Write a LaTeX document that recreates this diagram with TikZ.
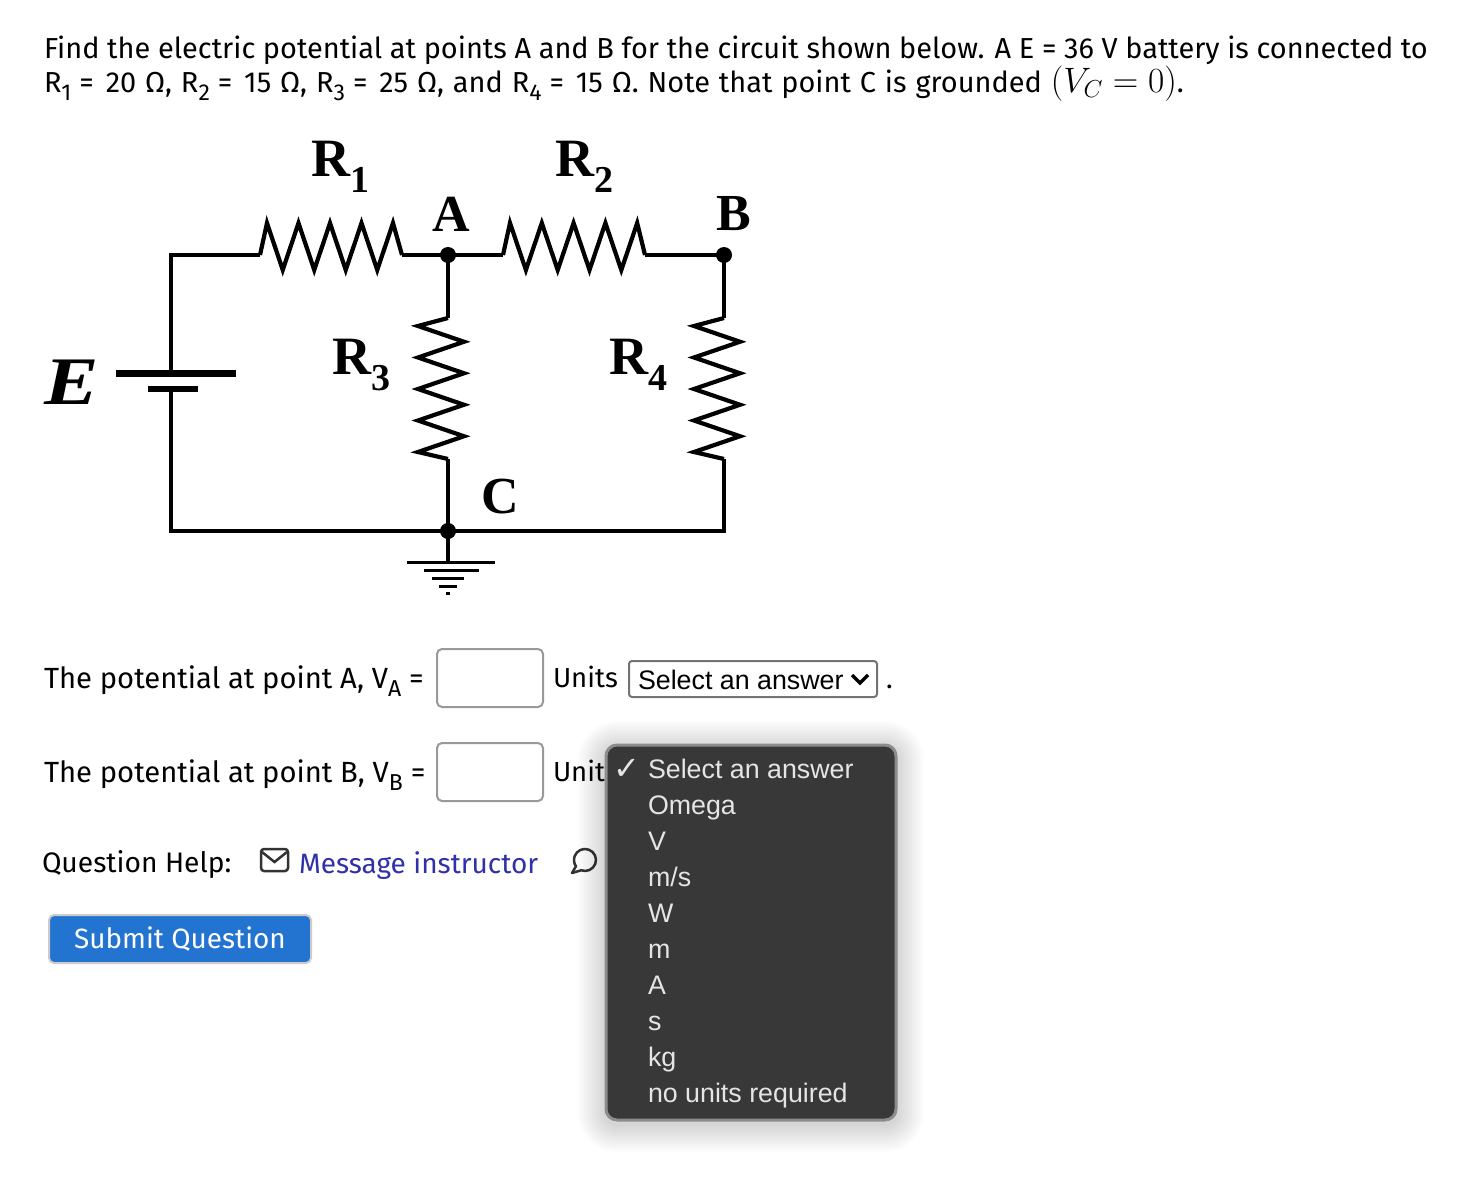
\documentclass[tikz,border=0pt]{standalone}
\usepackage{fontspec}
\setmainfont{Fira Sans}
\newfontfamily\circuitfont{Liberation Serif}
\newfontfamily\menufont{Liberation Sans}
\newfontfamily\checkfont{DejaVu Sans}
\usetikzlibrary{positioning}

\definecolor{menugray}{HTML}{383838}
\definecolor{linkblue}{HTML}{3030A8}
\definecolor{btnblue}{HTML}{2274D0}

\newcommand{\lowidx}[1]{\raisebox{-.3em}{\fontsize{23}{23}\selectfont #1}\hspace{3pt}}
\newcommand{\eqs}{\hspace{5pt}=\hspace{3pt}}
\newcommand{\rlabel}[1]{R\raisebox{-.3em}{\fontsize{38}{38}\selectfont #1}}

\begin{document}
\begin{tikzpicture}
[x=1pt, y=-1pt,
  every node/.style={inner sep=0pt, outer sep=0pt},
  body/.style={anchor=base west, font=\fontsize{#1}{32}\selectfont},
  body/.default=27.5,
  wire/.style={draw, line width=3.5pt, line join=miter},
  zigzag/.style={draw, line width=4.2pt, line join=miter},
  junction/.style={circle, fill=black, minimum size=16pt},
  plate/.style={draw, line width=7pt},
  gbar/.style={draw, line width=3pt},
  partlabel/.style={anchor=base west, font=\circuitfont\bfseries\fontsize{54}{54}\selectfont},
  pointlabel/.style={font=\circuitfont\bfseries\fontsize{52}{52}\selectfont},
  answerbox/.style={draw=black!40, line width=2pt, rounded corners=5pt, fill=white},
  menuitem/.style={anchor=base west, text=white!90!black, font=\menufont\fontsize{26.8}{32}\selectfont}]

\useasboundingbox (0,0) rectangle (1478,1202);

% question
\node[body=28.92] (line1) at (44,58) {Find the electric potential at points A and B for the circuit shown below. A E = 36 V battery is connected to};
\node[body=28.92] (line2) at (44,92) {\spaceskip=8.9pt R\lowidx{1}\eqs{} 20 Ω, R\lowidx{2}\eqs{} 15 Ω, R\lowidx{3}\eqs{} 25 Ω, and R\lowidx{4}\eqs{} 15 Ω. Note that point C is grounded \scalebox{1.42}{\fontsize{24}{24}\selectfont$(V_C = 0)$}.};

% circuit
\node[junction] (a) at (448,255) {};
\node[junction] (b) at (724,255) {};
\node[junction] (c) at (448,531) {};
\coordinate (tl) at (171,255);
\coordinate (bl) at (171,531);
\coordinate (br) at (724,531);
\coordinate (r1l) at (260,255);
\coordinate (r1r) at (402,255);
\coordinate (r2l) at (503,255);
\coordinate (r2r) at (645,255);
\coordinate (r3t) at (448,318);
\coordinate (r3b) at (448,459);
\coordinate (r4t) at (724,318);
\coordinate (r4b) at (724,459);
\coordinate (gnd) at (448,562);

\draw[wire] (r1l) -- (tl) -- (171,373);
\draw[wire] (171,389) -- (bl) -- (c.center) -- (br) -- (r4b);
\draw[wire] (r1r) -- (a.center) -- (r2l);
\draw[wire] (r2r) -- (b.center) -- (r4t);
\draw[wire] (a.center) -- (r3t);
\draw[wire] (r3b) -- (c.center) -- (gnd);

\draw[zigzag] (r1l) -- ++(7,-32) \foreach \i in {1,...,4} { -- ++(15.75,47) -- ++(15.75,-47)} -- (r1r);
\draw[zigzag] (r2l) -- ++(7,-32) \foreach \i in {1,...,4} { -- ++(15.9,47) -- ++(15.9,-47)} -- (r2r);
\draw[zigzag] (r3t) -- ++(-30,8) \foreach \i in {1,...,4} { -- ++(46,15.75) -- ++(-46,15.75)} -- (r3b);
\draw[zigzag] (r4t) -- ++(-30,8) \foreach \i in {1,...,4} { -- ++(46,15.75) -- ++(-46,15.75)} -- (r4b);

% battery
\coordinate (batl) at (116,373);
\coordinate (batr) at (236,373);
\coordinate (bats) at (148,389);
\coordinate (bate) at (198,389);
\draw[plate] (batl) -- (batr);
\draw[plate, line width=6pt] (bats) -- (bate);

% ground
\draw[gbar] (407,562) -- (495,562);
\draw[gbar] (424,570) -- (479,570);
\draw[gbar] (432,578) -- (464,578);
\draw[gbar] (439,586) -- (457,586);
\draw[gbar] (446,593) -- (450,593);

\node[partlabel] (r1) at (311,176) {\rlabel{1}};
\node[partlabel] (r2) at (555,176) {\rlabel{2}};
\node[partlabel] (r3) at (332,374) {\rlabel{3}};
\node[partlabel] (r4) at (609,374) {\rlabel{4}};
\node[pointlabel] (pa) at (451,214) {A};
\node[pointlabel] (pb) at (734,214) {B};
\node[pointlabel] (pc) at (500,497) {C};
\node[pointlabel, font=\circuitfont\bfseries\itshape\fontsize{68}{68}\selectfont] (pe) at (72,382) {\scalebox{1.2}[1]{E}};

% answers
\node[body=29.2] (va) at (44,688) {The potential at point A, V\lowidx{A}\eqs{}};
\draw[answerbox] (437,649) rectangle (543,707);
\node[body] (ua) at (553,687) {Units};
\draw[draw=black!55, line width=2pt, rounded corners=3pt, fill=white] (629,661) rectangle (877,697);
\node[menuitem, text=black] (sel) at (638,689) {Select an answer};
\coordinate (chl) at (852,675);
\coordinate (chm) at (860,683);
\coordinate (chr) at (868,675);
\draw[line width=3.5pt] (chl) -- (chm) -- (chr);
\node[body] (dot) at (886,688) {.};

\node[body=29.2] (vb) at (44,782) {The potential at point B, V\lowidx{B}\eqs{}};
\draw[answerbox] (437,743) rectangle (543,801);
\node[body] (ub) at (553,781) {Unit};

% help
\node[body=28.2] (help) at (42,872) {Question Help:};
\draw[draw=black!80, line width=2.5pt, rounded corners=3pt] (261,849) rectangle (288,871);
\draw[draw=black!80, line width=2.5pt] (262,852) -- (274.5,862) -- (287,852);
\node[body=28, text=linkblue] (msg) at (299,873) {Message instructor};
\draw[draw=black!80, line width=2.5pt, line join=round] (572,873) -- (581.2,870.3) arc[start angle=250, end angle=575, radius=11pt] -- cycle;

\node[draw=black!20, line width=2pt, fill=btnblue, rounded corners=5pt, text=white, minimum width=262pt, minimum height=48pt, font=\fontsize{27.9}{32}\selectfont] (submit) at (180,939) {Submit Question};

% dropdown
\foreach \s in {1,...,14}
  \fill[black, opacity=0.011, rounded corners=11pt+2pt*\s] (606-2*\s,745-2*\s+4) rectangle (896+2*\s,1120+2*\s+4);
\draw[draw=black!45, fill=menugray, line width=3pt, rounded corners=11pt] (606,745) rectangle (896,1120);
\node[anchor=base, text=white!90!black, font=\checkfont\fontsize{32}{32}\selectfont] (tick) at (627,779) {✓};
\node[menuitem] (m1) at (648,778) {Select an answer};
\node[menuitem] (m2) at (648,814) {Omega};
\node[menuitem] (m3) at (648,850) {V};
\node[menuitem] (m4) at (648,886) {m/s};
\node[menuitem] (m5) at (648,922) {W};
\node[menuitem] (m6) at (648,958) {m};
\node[menuitem] (m7) at (648,994) {A};
\node[menuitem] (m8) at (648,1030) {s};
\node[menuitem] (m9) at (648,1066) {kg};
\node[menuitem] (m10) at (648,1102) {no units required};

\end{tikzpicture}
\end{document}
